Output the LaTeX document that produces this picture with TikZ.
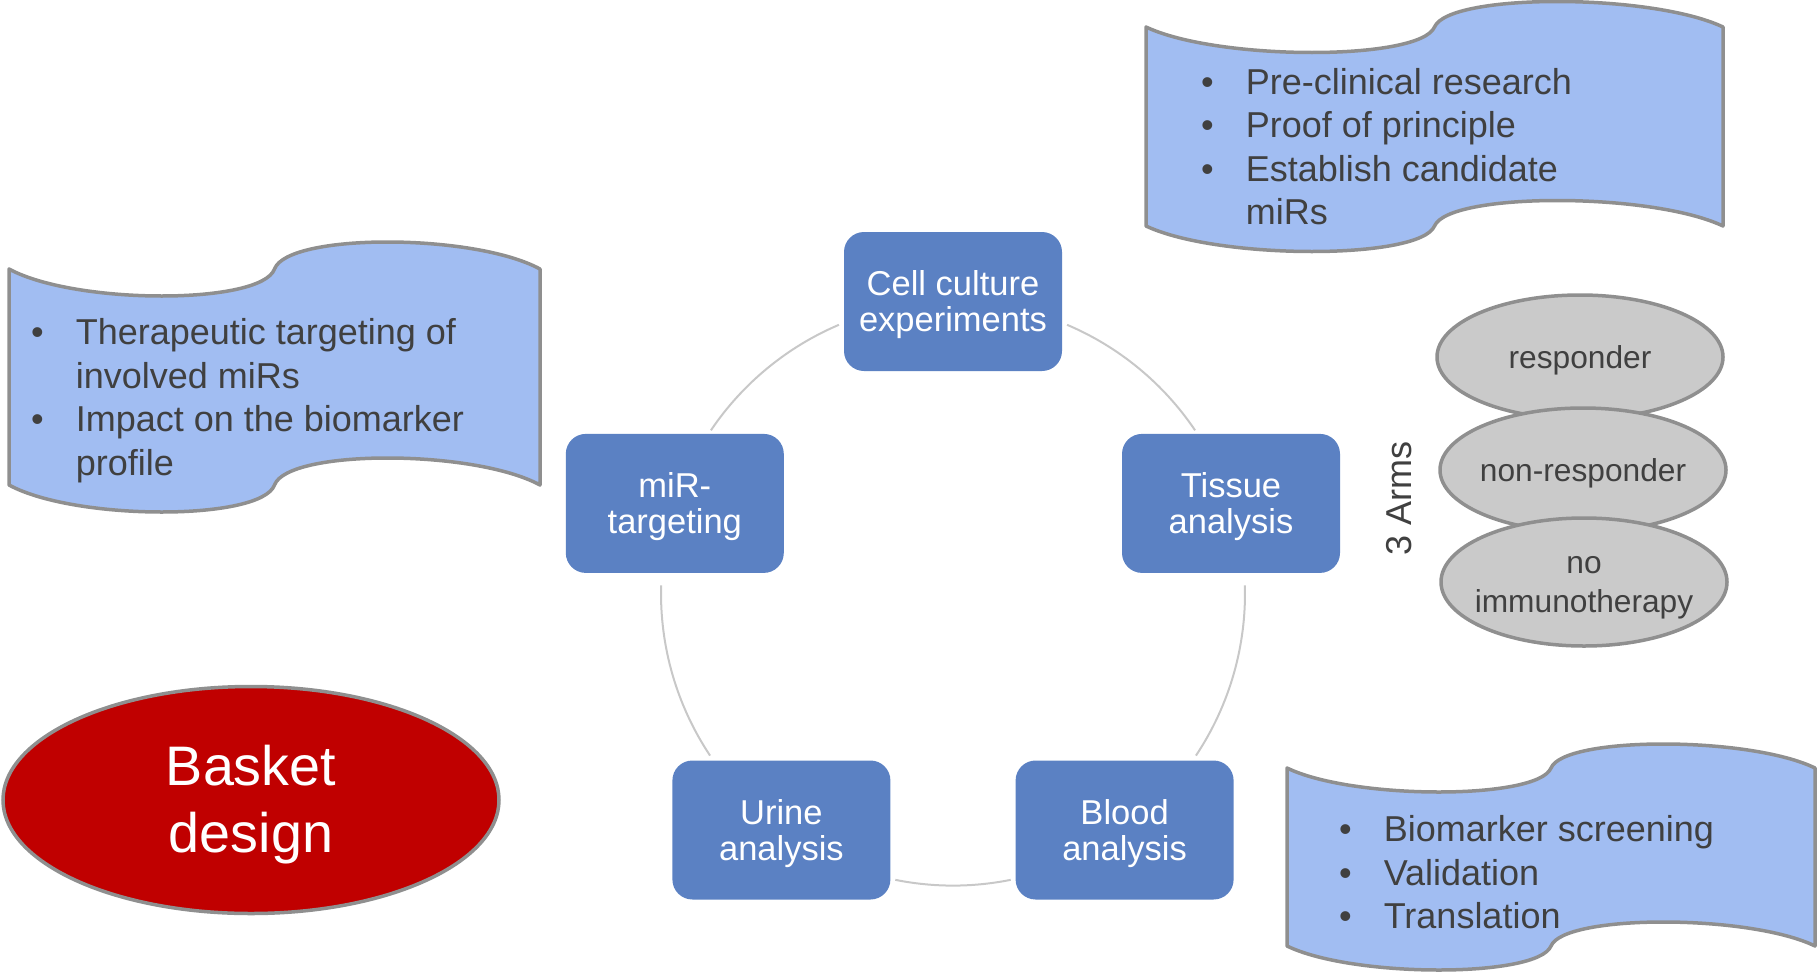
\documentclass[tikz,border=0pt]{standalone}
\usepackage{fontspec}
\setmainfont{Liberation Sans}
\usetikzlibrary{shapes.geometric}

\definecolor{boxblue}{HTML}{5B81C3}
\definecolor{bannerblue}{HTML}{A1BDF2}
\definecolor{edgegray}{HTML}{8F8F8F}
\definecolor{armgray}{HTML}{CACACA}
\definecolor{ringgray}{HTML}{C8C8C8}
\definecolor{basketred}{HTML}{C00000}
\definecolor{textgray}{HTML}{404040}

% invisible strut with the ascent of the font, so text sits as in the slide
\newcommand{\pptstrut}{\rule{0pt}{.905em}}

% wave shaped banner: left x, top y, half width, side height, bend
\newcommand{\wavebanner}[5]{%
  \filldraw[banner] (#1,#2)
    .. controls +({0.25*#3},#5) and +({-0.05*#3},#5) .. ++(#3,0)
    .. controls +({0.05*#3},-#5) and +({-0.25*#3},-#5) .. ++(#3,0)
    -- ++(0,#4)
    .. controls +({-0.25*#3},-#5) and +({0.05*#3},-#5) .. ++(-#3,0)
    .. controls +({-0.05*#3},#5) and +({0.25*#3},#5) .. ++(-#3,0)
    -- cycle;}

\begin{document}
\begin{tikzpicture}[x=1pt, y=-1pt,
    banner/.style={fill=bannerblue, draw=edgegray, line width=3.5pt, line join=round},
    bullets/.style={anchor=base west, inner sep=0pt, text=textgray, font=\fontsize{36}{43.5}\selectfont},
    stage/.style={rectangle, rounded corners=20pt, fill=boxblue, text=white, minimum width=218pt,
        minimum height=139pt, align=center, inner sep=0pt, font=\fontsize{34.5}{36}\selectfont},
    ring/.style={draw=ringgray, line width=2pt},
    arm/.style={ellipse, fill=armgray, draw=edgegray, line width=3.5pt, minimum width=286pt,
        minimum height=124pt, inner sep=0pt},
    armtext/.style={text=textgray, align=center, inner sep=0pt, font=\fontsize{31.7}{38.5}\selectfont},
    basket/.style={ellipse, fill=basketred, draw=edgegray, line width=3.5pt, minimum width=496pt,
        minimum height=227pt, inner sep=0pt, text=white, align=center, font=\fontsize{55.7}{67}\selectfont}]

    \useasboundingbox (0,0) rectangle (1818,972);

    % Draw the three wave banners
    \wavebanner{9}{269}{265.5}{216}{36}
    \wavebanner{1146}{27}{288.5}{199}{34}
    \wavebanner{1287}{768}{264}{178}{32}

    % Bullet lists inside the banners
    \node[bullets] (targetlist) at (31,344.6) {\begin{tabular}[t]{@{}l@{\hspace{32pt}}l@{}}
        \textbullet & Therapeutic targeting of\\
                    & involved miRs\\
        \textbullet & Impact on the biomarker\\
                    & profile
    \end{tabular}};
    \node[bullets] (researchlist) at (1201,94) {\begin{tabular}[t]{@{}l@{\hspace{32pt}}l@{}}
        \textbullet & Pre-clinical research\\
        \textbullet & Proof of principle\\
        \textbullet & Establish candidate\\
                    & miRs
    \end{tabular}};
    \node[bullets] (screenlist) at (1339,841.5) {\begin{tabular}[t]{@{}l@{\hspace{32pt}}l@{}}
        \textbullet & Biomarker screening\\
        \textbullet & Validation\\
        \textbullet & Translation
    \end{tabular}};

    % Ring of the cycle (arcs between the boxes)
    \coordinate (hub) at (953,593.6);
    \draw[ring] (hub) ++(-67:292) arc[start angle=-67, end angle=-34, radius=292];
    \draw[ring] (hub) ++(-1.6:292) arc[start angle=-1.6, end angle=33.7, radius=292];
    \draw[ring] (hub) ++(78.6:292) arc[start angle=78.6, end angle=101.4, radius=292];
    \draw[ring] (hub) ++(146.3:292) arc[start angle=146.3, end angle=181.6, radius=292];
    \draw[ring] (hub) ++(214:292) arc[start angle=214, end angle=247, radius=292];

    % Boxes of the cycle
    \node[stage] (cell) at (953,301.5) {\pptstrut Cell culture\\experiments};
    \node[stage] (tissue) at (1231,503.4) {\pptstrut Tissue\\analysis};
    \node[stage] (blood) at (1124.6,830) {\pptstrut Blood\\analysis};
    \node[stage] (urine) at (781.4,830) {\pptstrut Urine\\analysis};
    \node[stage] (mir) at (674.8,503.4) {\pptstrut miR-\\targeting};

    % Three arms
    \node[arm] (responder) at (1580,357) {};
    \node[armtext] (respondertext) at (responder) {\pptstrut responder};
    \node[arm] (nonresponder) at (1583,470) {};
    \node[armtext] (nonrespondertext) at (nonresponder) {\pptstrut non-responder};
    \node[arm, minimum height=128pt] (noimmuno) at (1584,582) {};
    \node[armtext] (noimmunotext) at (noimmuno) {\pptstrut no\\immunotherapy};
    \node[text=textgray, rotate=90, inner sep=0pt, font=\fontsize{36}{40}\selectfont] (arms) at (1399,498) {3 Arms};

    % Basket design
    \node[basket] (basket) at (251,800) {\pptstrut Basket\\design};

\end{tikzpicture}
\end{document}
